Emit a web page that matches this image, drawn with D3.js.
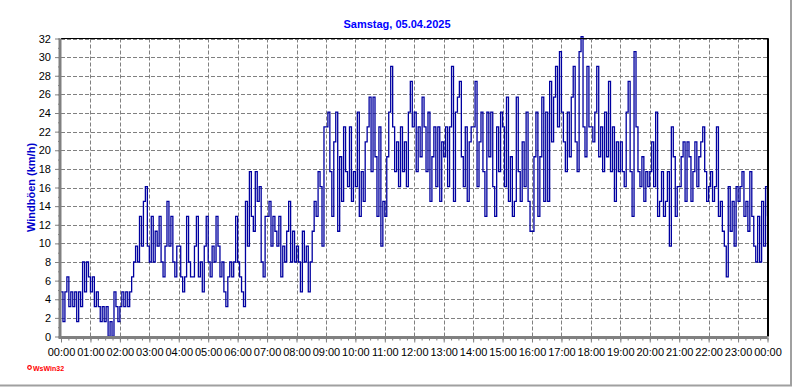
<!DOCTYPE html>
<html>
<head>
<meta charset="utf-8">
<script src="https://cdn.jsdelivr.net/npm/d3@7"></script>
<style>
  body { margin: 0; background: #fff; }
  svg { display: block; font-family: "Liberation Sans", Arial, sans-serif; }
</style>
</head>
<body>
<div id="chart"></div>
<script>
// wind gusts (km/h), one reading every 4 minutes, 05.04.2025 00:00 .. 24:00
var stepMinutes = 4;
var gusts = [
  // 00:00
  4.8, 1.6, 4.8, 6.4, 3.2, 4.8, 3.2, 4.8, 1.6, 4.8, 3.2, 8.0, 4.8, 8.0, 6.4,
  // 01:00
  4.8, 6.4, 3.2, 4.8, 3.2, 1.6, 3.2, 1.6, 3.2, 0, 1.6, 0, 4.8, 3.2, 1.6,
  // 02:00
  3.2, 4.8, 3.2, 4.8, 3.2, 4.8, 6.4, 8.0, 9.7, 8.0, 12.9, 9.7, 14.5, 16.1, 9.7,
  // 03:00
  8.0, 12.9, 8.0, 11.3, 9.7, 12.9, 8.0, 6.4, 9.7, 14.5, 9.7, 12.9, 8.0, 6.4, 9.7,
  // 04:00
  9.7, 6.4, 4.8, 6.4, 12.9, 8.0, 6.4, 6.4, 9.7, 12.9, 6.4, 8.0, 4.8, 9.7, 12.9,
  // 05:00
  8.0, 6.4, 9.7, 8.0, 12.9, 9.7, 6.4, 8.0, 4.8, 3.2, 6.4, 8.0, 6.4, 8.0, 12.9,
  // 06:00
  8.0, 6.4, 4.8, 3.2, 14.5, 9.7, 17.7, 12.9, 11.3, 17.7, 14.5, 16.1, 8.0, 6.4, 12.9,
  // 07:00
  12.9, 14.5, 9.7, 12.9, 11.3, 9.7, 12.9, 6.4, 9.7, 8.0, 11.3, 14.5, 8.0, 11.3, 8.0,
  // 08:00
  9.7, 8.0, 4.8, 11.3, 8.0, 9.7, 4.8, 8.0, 11.3, 14.5, 12.9, 17.7, 16.1, 9.7, 22.5,
  // 09:00
  22.5, 24.1, 17.7, 12.9, 20.9, 24.1, 11.3, 19.3, 14.5, 22.5, 17.7, 16.1, 22.5, 14.5, 17.7,
  // 10:00
  16.1, 24.1, 12.9, 17.7, 14.5, 20.9, 22.5, 25.7, 17.7, 25.7, 19.3, 12.9, 22.5, 9.7, 14.5,
  // 11:00
  12.9, 19.3, 24.1, 29.0, 22.5, 17.7, 20.9, 16.1, 22.5, 17.7, 20.9, 16.1, 24.1, 27.4, 22.5,
  // 12:00
  24.1, 17.7, 22.5, 19.3, 25.7, 22.5, 17.7, 24.1, 14.5, 19.3, 22.5, 16.1, 22.5, 14.5, 20.9,
  // 13:00
  19.3, 22.5, 16.1, 22.5, 29.0, 14.5, 24.1, 25.7, 27.4, 19.3, 16.1, 22.5, 14.5, 20.9, 22.5,
  // 14:00
  22.5, 27.4, 16.1, 20.9, 24.1, 17.7, 12.9, 24.1, 19.3, 24.1, 16.1, 12.9, 22.5, 17.7, 24.1,
  // 15:00
  22.5, 16.1, 25.7, 14.5, 19.3, 12.9, 14.5, 25.7, 17.7, 14.5, 20.9, 16.1, 24.1, 14.5, 11.3,
  // 16:00
  11.3, 19.3, 24.1, 12.9, 19.3, 25.7, 14.5, 24.1, 14.5, 27.4, 20.9, 25.7, 29.0, 22.5, 30.6,
  // 17:00
  24.1, 20.9, 17.7, 24.1, 19.3, 25.7, 29.0, 20.9, 17.7, 30.6, 32.2, 22.5, 19.3, 29.0, 22.5,
  // 18:00
  22.5, 20.9, 24.1, 29.0, 19.3, 22.5, 17.7, 24.1, 19.3, 27.4, 17.7, 22.5, 14.5, 20.9, 17.7,
  // 19:00
  20.9, 17.7, 16.1, 24.1, 27.4, 17.7, 12.9, 30.6, 22.5, 17.7, 16.1, 19.3, 14.5, 17.7, 16.1,
  // 20:00
  17.7, 20.9, 16.1, 24.1, 12.9, 14.5, 17.7, 12.9, 14.5, 17.7, 9.7, 22.5, 19.3, 12.9, 16.1,
  // 21:00
  16.1, 19.3, 20.9, 14.5, 20.9, 19.3, 14.5, 17.7, 20.9, 16.1, 19.3, 20.9, 22.5, 17.7, 14.5,
  // 22:00
  16.1, 17.7, 14.5, 16.1, 22.5, 12.9, 14.5, 11.3, 9.7, 6.4, 16.1, 11.3, 14.5, 9.7, 16.1,
  // 23:00
  14.5, 16.1, 17.7, 12.9, 14.5, 11.3, 17.7, 12.9, 9.7, 8.0, 12.9, 8.0, 14.5, 9.7, 16.1,
  // 24:00
  12.9
];
var yTicks = d3.range(0, 33, 2);
var titleText = "Samstag, 05.04.2025";
var yLabel = "Windb\u00f6en (km/h)";

var svgWidth = 792, svgHeight = 387;
var margin = { top: 38.5, right: 24.5, bottom: 50.5, left: 61 };

var dayStart = new Date(2025, 3, 5, 0, 0);
var dayEnd = new Date(2025, 3, 6, 0, 0);

var svg = d3.select("#chart")
  .append("svg")
    .attr("width", svgWidth)
    .attr("height", svgHeight);

// outer frame (right + bottom shadow lines)
svg.append("line")
  .attr("x1", 791).attr("x2", 791).attr("y1", 0).attr("y2", 386)
  .attr("stroke", "#a0a0a0").attr("stroke-width", 2);
svg.append("line")
  .attr("x1", 0).attr("x2", 792).attr("y1", 385.5).attr("y2", 385.5)
  .attr("stroke", "#a0a0a0").attr("stroke-width", 2);

var x = d3.scaleTime()
  .domain([dayStart, dayEnd])
  .range([margin.left, svgWidth - margin.right]);

var y = d3.scaleLinear()
  .domain([0, 32])
  .range([svgHeight - margin.bottom, margin.top]);

var points = gusts.map(function(v, i) {
  return { t: d3.timeMinute.offset(dayStart, i * stepMinutes), v: v };
});

// GRID
var grid = svg.append("g").attr("stroke", "#808080").attr("stroke-dasharray", "4,2");
grid.selectAll("line.h")
  .data(yTicks.slice(1))
  .enter().append("line")
    .attr("x1", x.range()[0]).attr("x2", x.range()[1])
    .attr("y1", function(d) { return Math.round(y(d)) + 0.5; })
    .attr("y2", function(d) { return Math.round(y(d)) + 0.5; });
grid.selectAll("line.v")
  .data(d3.timeHour.range(d3.timeHour.offset(dayStart, 1), dayEnd))
  .enter().append("line")
    .attr("x1", function(d) { return Math.round(x(d)) + 0.5; })
    .attr("x2", function(d) { return Math.round(x(d)) + 0.5; })
    .attr("y1", y.range()[1]).attr("y2", y.range()[0]);

// DATA LINE (stepped, like the logger plot)
var line = d3.line()
  .curve(d3.curveStepAfter)
  .x(function(d) { return x(d.t); })
  .y(function(d) { return y(d.v); });

svg.append("path")
  .datum(points)
  .attr("d", line)
  .attr("fill", "none")
  .attr("stroke", "#0000a0")
  .attr("stroke-width", 1.3)
  .attr("stroke-linejoin", "miter");

// top + right border
svg.append("line")
  .attr("x1", x.range()[0]).attr("x2", x.range()[1] + 1)
  .attr("y1", margin.top).attr("y2", margin.top)
  .attr("stroke", "#000").attr("stroke-width", 1);
svg.append("line")
  .attr("x1", x.range()[1] + 0.5).attr("x2", x.range()[1] + 0.5)
  .attr("y1", margin.top).attr("y2", y.range()[0])
  .attr("stroke", "#000").attr("stroke-width", 2);

// X AXIS
var xAxisY = y.range()[0] + 1;
svg.append("g")
  .attr("transform", "translate(0," + xAxisY + ")")
  .call(d3.axisBottom(x).ticks(d3.timeMinute.every(15)).tickSize(3).tickFormat(""))
  .call(function(g) { g.select(".domain").remove(); g.selectAll("line").attr("stroke", "#808080"); });

var xAxis = svg.append("g")
  .attr("transform", "translate(0," + xAxisY + ")")
  .call(d3.axisBottom(x)
    .tickValues(d3.timeHour.range(dayStart, d3.timeMinute.offset(dayEnd, 1)))
    .tickSize(5).tickPadding(6)
    .tickFormat(d3.timeFormat("%H:%M")));
xAxis.select(".domain").attr("stroke", "#808080").attr("stroke-width", 3)
  .attr("d", "M" + (x.range()[0] - 1.5) + ",0H" + x.range()[1]);
xAxis.selectAll("line").attr("stroke", "#808080");
xAxis.selectAll("text").attr("font-size", "11px").attr("fill", "#000")
  .attr("font-family", "'Liberation Sans', Arial, sans-serif");

// Y AXIS
var yAxisX = x.range()[0] - 1;
svg.append("g")
  .attr("transform", "translate(" + yAxisX + ",0)")
  .call(d3.axisLeft(y).ticks(32).tickSize(2).tickFormat(""))
  .call(function(g) { g.select(".domain").remove(); g.selectAll("line").attr("stroke", "#808080"); });

var yAxis = svg.append("g")
  .attr("transform", "translate(" + yAxisX + ",0)")
  .call(d3.axisLeft(y).tickValues(yTicks).tickSize(5).tickPadding(4));
yAxis.select(".domain").attr("stroke", "#808080").attr("stroke-width", 3)
  .attr("d", "M0," + (margin.top) + "V" + (y.range()[0] + 2.5));
yAxis.selectAll("line").attr("stroke", "#808080");
yAxis.selectAll("text").attr("font-size", "11px").attr("fill", "#000")
  .attr("font-family", "'Liberation Sans', Arial, sans-serif");

// TITLE + LABELS
svg.append("text")
  .attr("x", 397).attr("y", 28)
  .attr("text-anchor", "middle")
  .attr("font-size", "11px").attr("font-weight", "bold")
  .attr("fill", "#0000ff")
  .text(titleText);

svg.append("text")
  .attr("transform", "translate(35," + ((y.range()[0] + y.range()[1]) / 2) + ") rotate(-90)")
  .attr("text-anchor", "middle")
  .attr("font-size", "11px").attr("font-weight", "bold")
  .attr("fill", "#0000cc")
  .text(yLabel);

// software stamp
svg.append("circle")
  .attr("cx", 29.5).attr("cy", 367.5).attr("r", 1.8)
  .attr("fill", "none").attr("stroke", "#ff0000").attr("stroke-width", 1.2);
svg.append("text")
  .attr("x", 33).attr("y", 370.5)
  .attr("font-size", "7px").attr("font-weight", "bold")
  .attr("fill", "#ff0000")
  .text("WsWin32");
</script>
</body>
</html>
